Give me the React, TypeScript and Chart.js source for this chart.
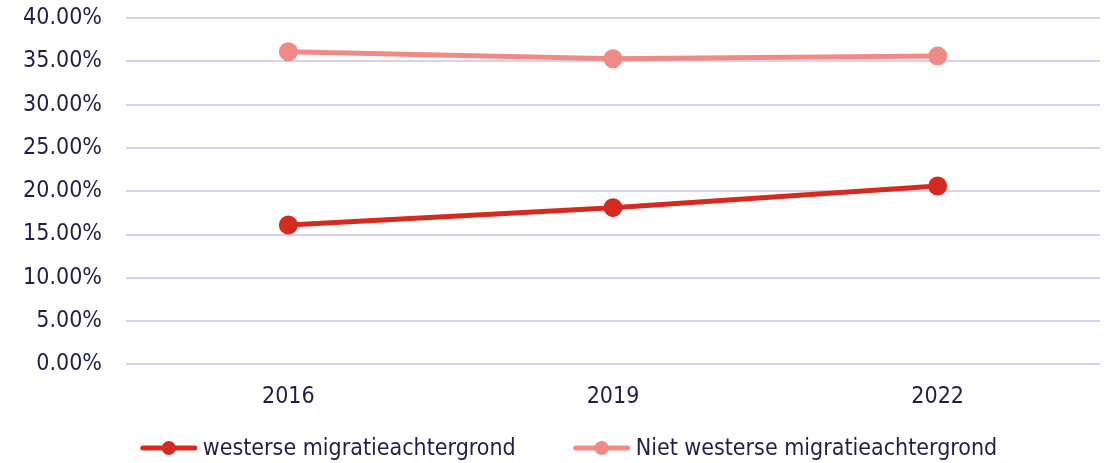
import React, { useEffect, useRef } from "react";
import { Chart, registerables } from "chart.js";

Chart.register(...registerables);

const categories = ["2016", "2019", "2022"];
const seriesNames = ["westerse migratieachtergrond", "Niet westerse migratieachtergrond"];
const westerse = [16.1, 18.1, 20.6];
const nietWesterse = [36.1, 35.3, 35.6];
const yTicks = { min: 0, max: 40, step: 5 };

const RED = "#D42A1F";
const PINK = "#F08A85";
const TEXT = "#221E46";
const GRID = "#D8D0EC";
const FONT = "'DejaVu Sans Condensed', 'DejaVu Sans', sans-serif";
const FONT_SIZE = 23;

const legendPlugin = {
  id: "customLegend",
  afterDraw(chart: any) {
    const ctx = chart.ctx;
    const symW = 56;
    const gap = 6;
    const itemGap = 58;
    const y = 448;
    ctx.save();
    ctx.font = `${FONT_SIZE}px ${FONT}`;
    const ds = chart.data.datasets;
    const widths = ds.map((d: any) => ctx.measureText(d.label).width);
    let total = 0;
    widths.forEach((w: number, i: number) => {
      total += symW + gap + w + (i < widths.length - 1 ? itemGap : 0);
    });
    let x = 569 - total / 2;
    ds.forEach((d: any, i: number) => {
      ctx.strokeStyle = d.borderColor;
      ctx.lineWidth = 5;
      ctx.lineCap = "round";
      ctx.beginPath();
      ctx.moveTo(x + 2, y);
      ctx.lineTo(x + symW - 2, y);
      ctx.stroke();
      ctx.fillStyle = d.borderColor;
      ctx.beginPath();
      ctx.arc(x + symW / 2, y, 7, 0, Math.PI * 2);
      ctx.fill();
      ctx.fillStyle = TEXT;
      ctx.textBaseline = "middle";
      ctx.textAlign = "left";
      ctx.fillText(d.label, x + symW + gap, y + 1);
      x += symW + gap + widths[i] + itemGap;
    });
    ctx.restore();
  },
};

export default function App() {
  const ref = useRef<HTMLCanvasElement | null>(null);

  useEffect(() => {
    document.body.style.margin = "0";
    document.body.style.overflow = "hidden";
    if (!ref.current) return;
    const chart = new Chart(ref.current, {
      type: "line",
      data: {
        labels: categories,
        datasets: [
          {
            label: seriesNames[0],
            data: westerse,
            borderColor: RED,
            backgroundColor: RED,
            pointBackgroundColor: RED,
            pointBorderColor: RED,
            borderWidth: 5,
            pointRadius: 7,
            pointHoverRadius: 7,
            tension: 0,
          },
          {
            label: seriesNames[1],
            data: nietWesterse,
            borderColor: PINK,
            backgroundColor: PINK,
            pointBackgroundColor: PINK,
            pointBorderColor: PINK,
            borderWidth: 5,
            pointRadius: 7,
            pointHoverRadius: 7,
            tension: 0,
          },
        ],
      },
      options: {
        animation: false,
        responsive: true,
        maintainAspectRatio: false,
        layout: { padding: { top: 18, right: 11, bottom: 34, left: 0 } },
        plugins: {
          legend: { display: false },
          tooltip: { enabled: false },
        },
        scales: {
          x: {
            offset: true,
            grid: { display: false, drawTicks: false },
            border: { display: false },
            ticks: {
              color: TEXT,
              font: { family: FONT, size: FONT_SIZE },
              padding: 18.5,
              maxRotation: 0,
            },
          },
          y: {
            min: yTicks.min,
            max: yTicks.max,
            border: { display: false },
            grid: {
              color: GRID,
              lineWidth: 2,
              drawTicks: true,
              tickLength: 24,
              tickColor: "rgba(0,0,0,0)",
            },
            ticks: {
              stepSize: yTicks.step,
              color: TEXT,
              padding: 0,
              font: { family: FONT, size: FONT_SIZE },
              callback: (v: any) => Number(v).toFixed(2) + "%",
            },
            afterFit: (scale: any) => {
              scale.width = 126;
            },
          },
        },
      },
      plugins: [legendPlugin],
    });
    return () => chart.destroy();
  }, []);

  return (
    <div style={{ width: 1112, height: 463, position: "relative" }}>
      <canvas ref={ref} />
    </div>
  );
}
